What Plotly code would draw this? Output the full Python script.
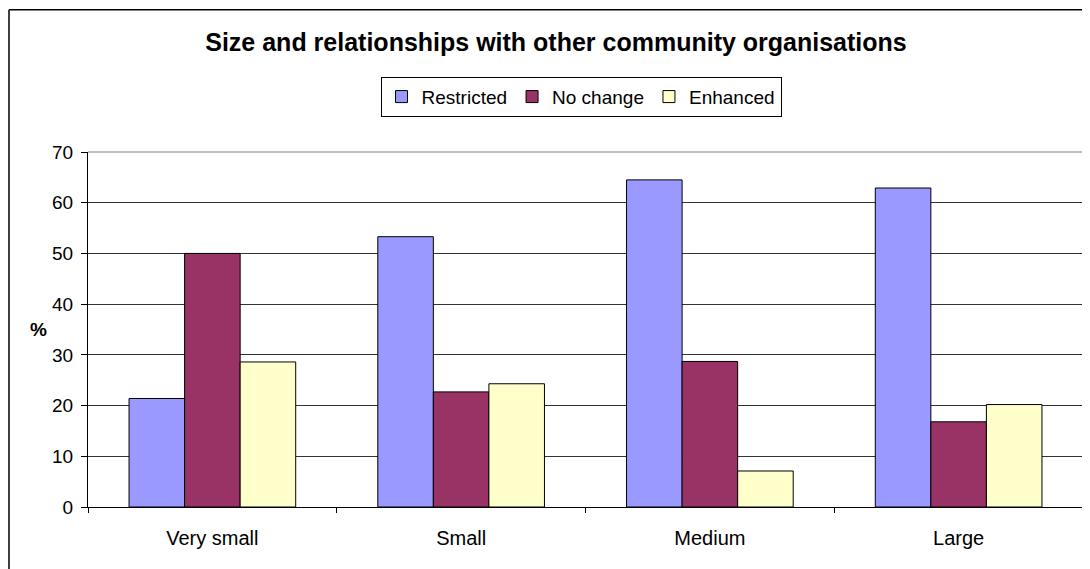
import plotly.graph_objects as go

categories = ["Very small", "Small", "Medium", "Large"]
restricted = [21.4, 53.3, 64.5, 62.9]
no_change = [50.0, 22.7, 28.7, 16.8]
enhanced = [28.6, 24.3, 7.1, 20.2]

series = [
    ("Restricted", restricted, "#9999FF"),
    ("No change", no_change, "#993366"),
    ("Enhanced", enhanced, "#FFFFCC"),
]

fig = go.Figure()
for name, vals, col in series:
    fig.add_trace(go.Bar(x=categories, y=vals, name=name,
                         marker=dict(color=col, line=dict(color="black", width=1))))

W, H = 1082, 561
fig.update_layout(
    width=W, height=H,
    margin=dict(l=80, r=7, t=144, b=62),
    paper_bgcolor="white", plot_bgcolor="white",
    font=dict(family="Arial, Liberation Sans, sans-serif", size=19, color="black"),
    barmode="group", bargap=0.33, bargroupgap=0,
    title=dict(text="<b>Size and relationships with other community organisations</b>",
               x=548 / W, xanchor="center", y=1 - 34 / H, yanchor="middle",
               font=dict(size=25)),
    legend=dict(orientation="h", x=0.4955, xanchor="center", y=1.212, yanchor="top",
                bordercolor="black", borderwidth=1, font=dict(size=19),
                itemwidth=30, tracegroupgap=0),
    showlegend=True,
)

fig.update_yaxes(range=[0, 70], dtick=10, showgrid=True, gridcolor="#333333", gridwidth=1,
                 showline=True, linecolor="black", linewidth=1,
                 ticks="outside", ticklen=6, tickcolor="black",
                 zeroline=False, ticklabelstandoff=4)
fig.update_xaxes(showline=True, linecolor="black", linewidth=1,
                 ticks="outside", tickson="boundaries", ticklen=5, tickcolor="black",
                 tickfont=dict(size=20), ticklabelstandoff=13)

# plot area top/right border
fig.add_shape(type="line", xref="paper", yref="paper", x0=0, x1=1, y0=1, y1=1,
              line=dict(color="#808080", width=1))
fig.add_shape(type="line", xref="paper", yref="paper", x0=1, x1=1, y0=0, y1=1,
              line=dict(color="#808080", width=1))

# chart frame (top and left visible)
fig.add_shape(type="line", xref="paper", yref="paper", x0=-0.0794, x1=1.02, y0=1.401, y1=1.401,
              line=dict(color="black", width=1.5))
fig.add_shape(type="line", xref="paper", yref="paper", x0=-0.0794, x1=-0.0794, y0=1.401, y1=-0.2,
              line=dict(color="black", width=1.5))

fig.add_annotation(text="<b>%</b>", xref="paper", yref="paper",
                   x=(38 - 88) / 995, y=(507.3 - 329) / 355.6,
                   showarrow=False, xanchor="center", yanchor="middle", font=dict(size=19))

fig.write_html("out.html")
